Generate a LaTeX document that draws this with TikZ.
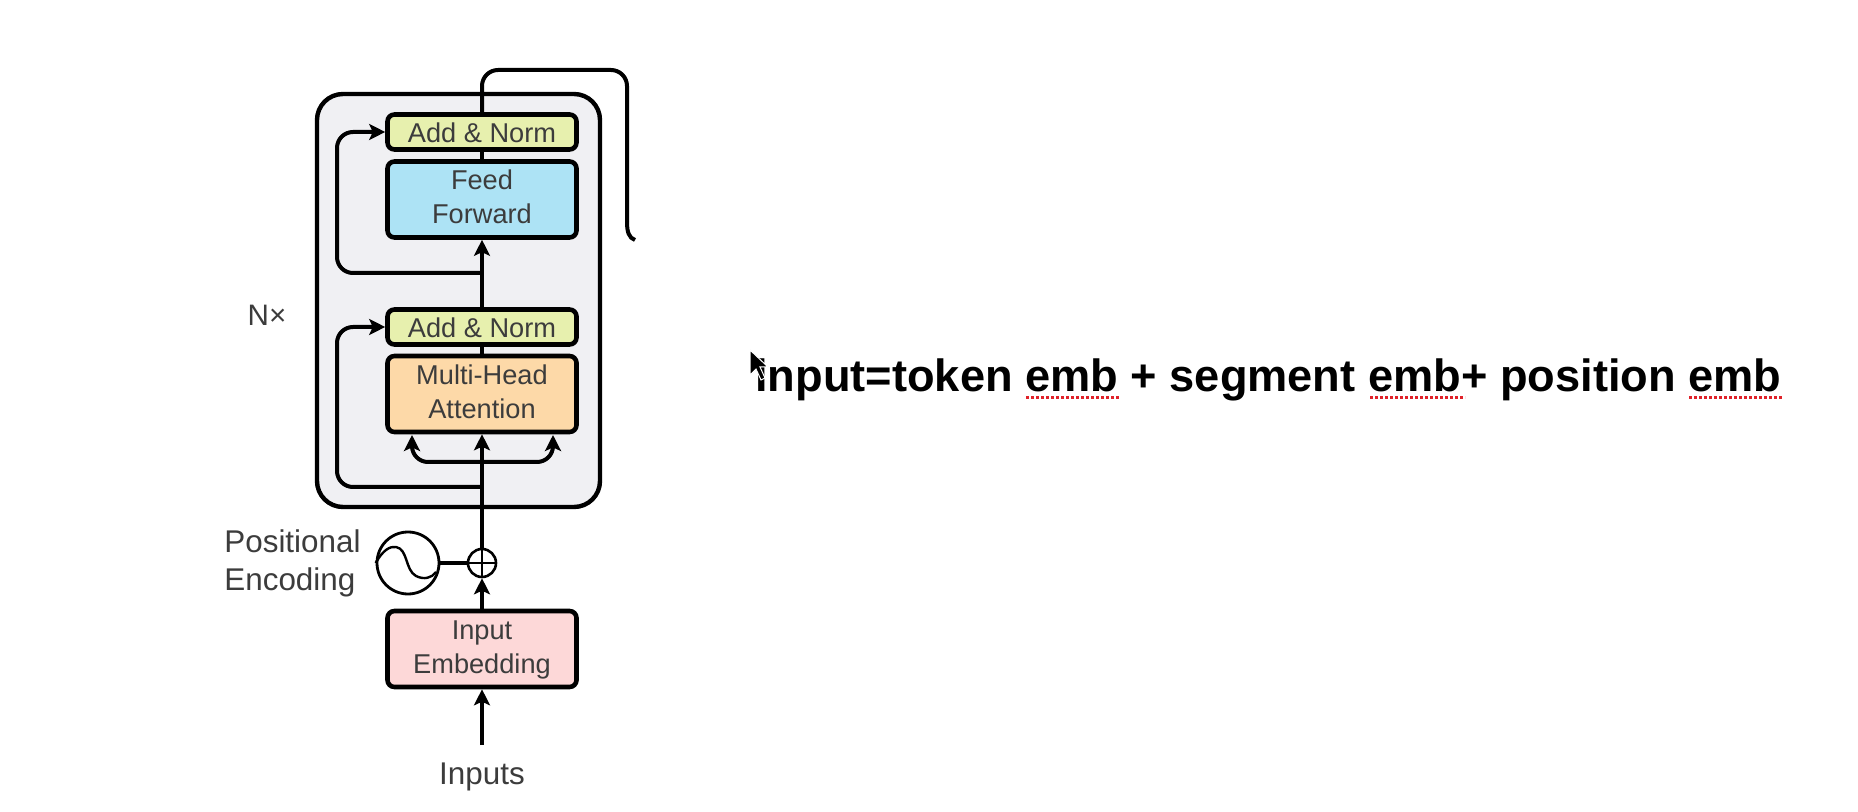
\documentclass[tikz,border=0pt]{standalone}
\usepackage{fontspec}
\setmainfont{Liberation Sans}
\usetikzlibrary{arrows.meta}
\definecolor{boxbg}{HTML}{F0F0F3}
\definecolor{normc}{HTML}{E7F0AE}
\definecolor{ffc}{HTML}{ADE3F5}
\definecolor{mhac}{HTML}{FDD9A8}
\definecolor{embc}{HTML}{FDD8D8}
\definecolor{labc}{HTML}{3C3C3C}
\definecolor{squig}{HTML}{E0222A}
\newcommand\liftt[2]{\raisebox{#1}[0.72em][0pt]{#2}}
\tikzset{
  x=0.5pt,y=-0.5pt,
  block/.style={draw=black,line width=2.3pt,rounded corners=3.5pt,minimum width=94.5pt,align=center,inner sep=0pt,
    text=labc,font=\fontsize{13.6pt}{14pt}\selectfont},
  normbox/.style={block,fill=normc,minimum height=17.5pt},
  tallbox/.style={block,minimum height=38pt},
  wire/.style={line width=2pt,draw=black,rounded corners=8pt},
  arrowwire/.style={wire,-{Stealth[length=8pt,width=8pt,inset=1.8pt]}},
  lab/.style={text=labc,font=\fontsize{15.7pt}{14pt}\selectfont,inner sep=0pt,align=left},
  squiggle/.style={draw=squig,line width=1.2pt,dash pattern=on 1.6pt off 0.9pt},
}
\begin{document}
\begin{tikzpicture}
\useasboundingbox (0,0) rectangle (1858,812);
\fill[white] (0,0) rectangle (1858,812);
% outer block
\node[draw=black,line width=2.2pt,fill=boxbg,rounded corners=13pt,minimum width=141.5pt,minimum height=206.5pt,inner sep=0pt] (outer) at (458.5,300.5) {};
% nodes
\node[normbox] (an1) at (482,132) {\liftt{-0.4pt}{Add \& Norm}};
\node[tallbox,fill=ffc] (ff) at (482,199.5) {\liftt{1.3pt}{Feed}\\[2.8pt]\liftt{1.3pt}{Forward}};
\node[normbox] (an2) at (482,327) {\liftt{-0.4pt}{Add \& Norm}};
\node[tallbox,fill=mhac] (mha) at (482,394) {\liftt{1.1pt}{Multi-Head}\\[2.8pt]\liftt{1.1pt}{Attention}};
\node[tallbox,fill=embc] (emb) at (482,649) {\liftt{1pt}{Input}\\[2.8pt]\liftt{1pt}{Embedding}};
\node[circle,draw=black,line width=1.3pt,fill=white,minimum size=14pt,inner sep=0pt] (plus) at (482,563) {};
\node[circle,draw=black,line width=1.4pt,fill=white,minimum size=31pt,inner sep=0pt] (pe) at (408,563) {};
\node[lab,anchor=base] (inp) at (482,784) {Inputs};
\node[lab,anchor=west] (pos) at (224,563) {Positional\\[5pt]Encoding};
\node[lab,anchor=center,font=\fontsize{14.8pt}{15pt}\selectfont] (nx) at (267,315) {N×};
\node[inner sep=0pt,anchor=base west,font=\fontsize{22.6pt}{23pt}\selectfont\bfseries] (title) at (755,392) {input=token emb + segment emb+ position emb};
% coordinates
\coordinate (top1) at (482,70);
\coordinate (top2) at (627,70);
\coordinate (top3) at (627,222);
\coordinate (topend) at (635,240);
\coordinate (s1) at (482,273);
\coordinate (s1c) at (337,132);
\coordinate (s2) at (482,487);
\coordinate (s2c) at (337,327);
\coordinate (br) at (482,462);
\coordinate (brl) at (412,435);
\coordinate (brr) at (553,435);
\coordinate (inpstart) at (482,745);
% connectors
\draw[wire] (an1.north) -- (top1) -- (top2) -- (top3);
\draw[line width=2pt] (top3) .. controls (627,232) and (629,238) .. (topend);
\draw[line width=2pt] (ff.north) -- (an1.south);
\draw[line width=2pt] (mha.north) -- (an2.south);
\draw[arrowwire] (an2.north) -- (ff.south);
\draw[arrowwire] (s1) -| (s1c) -- (an1.west);
\draw[arrowwire] (s2) -| (s2c) -- (an2.west);
\draw[arrowwire] (plus.north) -- (mha.south);
\draw[arrowwire] (br) -| (brl);
\draw[arrowwire] (br) -| (brr);
\draw[arrowwire] (emb.north) -- (plus.south);
\draw[arrowwire] (inpstart) -- (emb.south);
\draw[line width=2pt] (pe.east) -- (plus.west);
% plus sign and sine
\draw[line width=1.2pt] (plus.north) -- (plus.south);
\draw[line width=1.2pt] (plus.west) -- (plus.east);
\draw[line width=1.2pt] (pe.west) .. controls (383,550) and (390,546) .. (396,547) .. controls (408,549) and (405,570) .. (416,576) .. controls (424,580) and (432,578) .. (436,572);
% spell-check squiggles
\draw[squiggle] (1026,397.5) -- (1120,397.5);
\draw[squiggle] (1370,397.5) -- (1465,397.5);
\draw[squiggle] (1689,397.5) -- (1783,397.5);
% mouse pointer
\fill[black,draw=white,line width=0.5pt] (750,350) -- (750,375) -- (756,369) -- (761,380) -- (765,378) -- (760,367) -- (768,367) -- cycle;
\end{tikzpicture}
\end{document}
